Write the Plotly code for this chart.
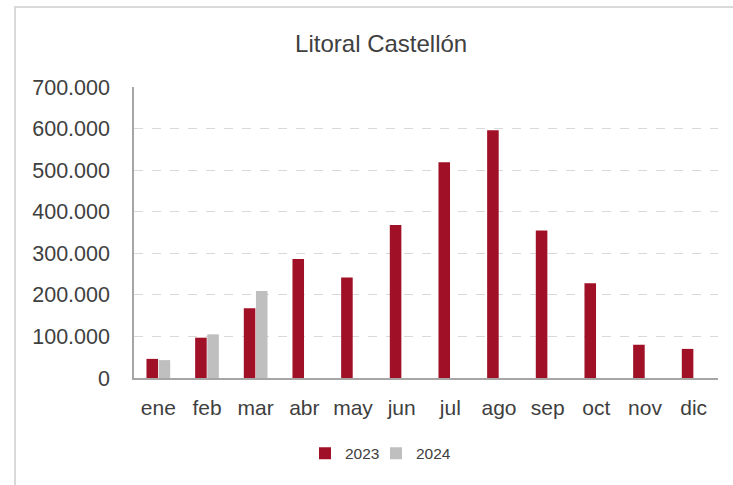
import plotly.graph_objects as go

months = ["ene", "feb", "mar", "abr", "may", "jun", "jul", "ago", "sep", "oct", "nov", "dic"]
values_2023 = [46000, 97000, 168000, 286000, 242000, 368000, 519000, 596000, 355000, 228000, 80000, 70000]
values_2024 = [43000, 105000, 209000, None, None, None, None, None, None, None, None, None]
y_ticks = [0, 100000, 200000, 300000, 400000, 500000, 600000, 700000]
y_tick_labels = ["0", "100.000", "200.000", "300.000", "400.000", "500.000", "600.000", "700.000"]

RED = "#A01127"
GRAY = "#BFBFBF"
TXT = "#404040"
FONT = "Liberation Sans, Arial, sans-serif"

fig = go.Figure()
fig.add_trace(go.Bar(x=months, y=values_2023, name="2023", legend="legend",
                     marker=dict(color=RED, line=dict(width=0))))
fig.add_trace(go.Bar(x=months, y=values_2024, name="2024", legend="legend2",
                     marker=dict(color=GRAY, line=dict(width=0))))

leg_common = dict(orientation="h", yanchor="middle", y=-0.26, xanchor="left",
                  font=dict(size=15.5, color=TXT), itemwidth=30, bgcolor="rgba(0,0,0,0)")

fig.update_layout(
    width=733, height=485,
    paper_bgcolor="white", plot_bgcolor="white",
    margin=dict(l=134, r=15, t=87, b=107, autoexpand=False),
    barmode="group", bargap=0.5, bargroupgap=0.05,
    font=dict(family=FONT, color=TXT),
    title=dict(text="Litoral Castellón", x=0.52, xanchor="center", y=0.91, yanchor="middle",
               font=dict(size=24, color=TXT, family=FONT)),
    showlegend=True,
    legend=dict(x=(305 - 134) / 584, **leg_common),
    legend2=dict(x=(376 - 134) / 584, **leg_common),
    xaxis=dict(showline=True, linecolor="#A6A6A6", linewidth=2, ticks="",
               tickfont=dict(size=21, color=TXT), showgrid=False, ticklabelstandoff=10),
    yaxis=dict(range=[0, 700000], tickvals=y_ticks, ticktext=y_tick_labels,
               showline=True, linecolor="#A6A6A6", linewidth=1.5,
               showgrid=True, gridcolor="#D9D9D9", griddash="dash", gridwidth=1.3,
               zeroline=False, tickfont=dict(size=21.5, color=TXT), ticks="", ticklen=0,
               ticklabelstandoff=18),
    shapes=[dict(type="rect", xref="paper", yref="paper", x0=-0.2038, x1=1.05, y0=-0.5, y1=1.275,
                 line=dict(color="#D9D9D9", width=2), fillcolor="rgba(0,0,0,0)", layer="below")],
)

fig.write_html("out.html", config={"displayModeBar": False},
               post_script="document.body.style.margin='0';document.body.style.padding='0';document.body.style.overflow='hidden';")
